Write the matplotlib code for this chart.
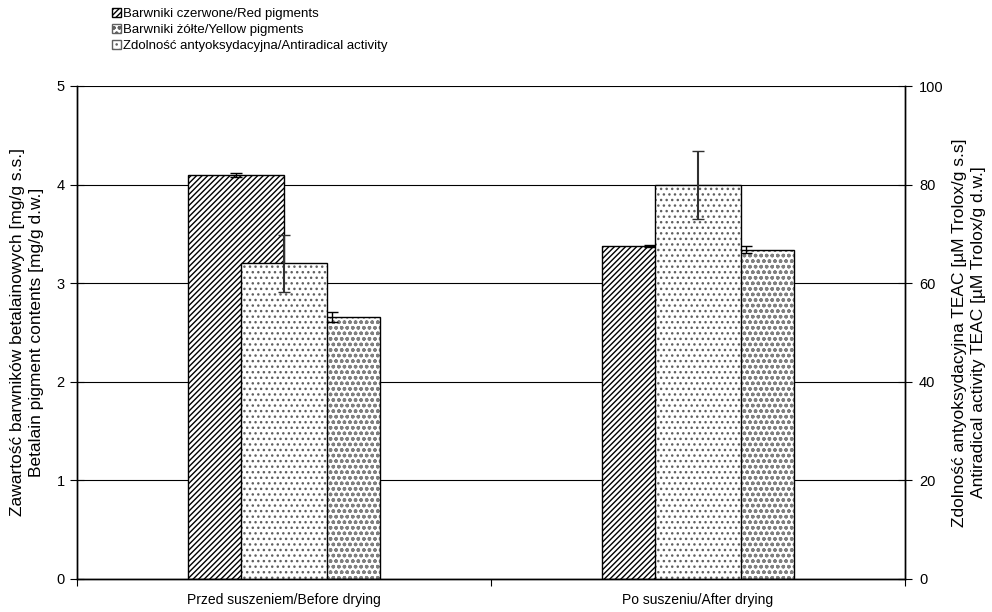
import matplotlib
matplotlib.use("Agg")
import matplotlib.pyplot as plt
from matplotlib.patches import Patch
import numpy as np

plt.rcParams['font.family'] = ['Liberation Sans', 'DejaVu Sans']
plt.rcParams['hatch.linewidth'] = 1.0

groups = ['Przed suszeniem/Before drying', 'Po suszeniu/After drying']
red = [4.10, 3.38]
red_err = [0.02, 0.01]
yellow = [2.66, 3.34]
yellow_err = [0.05, 0.035]
teac = [64.0, 80.0]
teac_err = [5.7, 6.9]

labels = ['Barwniki czerwone/Red pigments',
          'Barwniki żółte/Yellow pigments',
          'Zdolność antyoksydacyjna/Antiradical activity']

x = np.arange(len(groups))
w1 = 0.232   # primary-axis bars
w2 = 0.21    # secondary-axis bar, sits on top in the middle

fig = plt.figure(figsize=(9.92, 6.12), dpi=100)
ax = fig.add_axes([77/992, 1-579/612, 828/992, 493/612])
ax2 = ax.twinx()


def hatched_bar(a, xs, h, width, hatch, hcolor):
    # fill + hatch first, then a plain black outline on top
    a.bar(xs, h, width, color='white', edgecolor=hcolor, hatch=hatch, linewidth=0, zorder=2)
    a.bar(xs, h, width, fill=False, edgecolor='black', linewidth=1.0, zorder=3)


hatched_bar(ax, x - w1/2, red, w1, '//////', 'black')
hatched_bar(ax, x + w1/2, yellow, w1, 'ooo', '#808080')
ax.errorbar(x - w1/2, red, yerr=red_err, fmt='none', ecolor='black', elinewidth=1, capsize=4, zorder=4)
ax.errorbar(x + w1/2, yellow, yerr=yellow_err, fmt='none', ecolor='black', elinewidth=1, capsize=4, zorder=4)

hatched_bar(ax2, x, teac, w2, '...', '#606060')
ax2.errorbar(x, teac, yerr=teac_err, fmt='none', ecolor='#303030', elinewidth=1.5, capsize=4, zorder=4)

ax.set_xlim(-0.5, 1.5)
ax.set_ylim(0, 5)
ax2.set_ylim(0, 100)
ax.set_yticks(range(0, 6))
ax2.set_yticks(range(0, 101, 20))
ax.yaxis.grid(True, color='black', linewidth=0.8)
ax.set_axisbelow(True)

ax.set_xticks([-0.5, 0.5, 1.5])
ax.set_xticklabels([])
ax.set_xticks(x, minor=True)
ax.set_xticklabels(groups, minor=True, fontsize=10)
ax.tick_params(axis='x', which='minor', length=0, pad=10)
ax.tick_params(axis='x', which='major', length=5, direction='out')
ax.tick_params(axis='y', direction='inout', length=10, pad=4, labelsize=10.5)
ax2.tick_params(axis='y', direction='inout', length=10, pad=5, labelsize=10.5)

for a in (ax, ax2):
    a.spines['top'].set_visible(False)
    for s in ('left', 'right', 'bottom'):
        a.spines[s].set_linewidth(1.0)

ax.set_ylabel('Zawartość barwników betalainowych [mg/g s.s.]\nBetalain pigment contents [mg/g d.w.]',
              fontsize=12.5, linespacing=1.3)
ax.yaxis.set_label_coords(-33/828, 0.5)
ax2.set_ylabel('Zdolność antyoksydacyjna TEAC [µM Trolox/g s.s]\nAntiradical activity TEAC [µM Trolox/g d.w.]',
               fontsize=12.5, linespacing=1.3, rotation=90)
ax2.yaxis.set_label_coords(1 + 47/828, 0.5)

handles = [Patch(facecolor='white', edgecolor='black', hatch='//////'),
           Patch(facecolor='white', edgecolor='#606060', hatch='ooo'),
           Patch(facecolor='white', edgecolor='#606060', hatch='...')]
fig.legend(handles, labels, loc='upper left', bbox_to_anchor=(104/992, 1.0), frameon=False,
           fontsize=9.5, handlelength=0.7, handleheight=0.7,
           handletextpad=0.15, labelspacing=0.27, borderaxespad=0.2)

fig.savefig('out.png', dpi=100)
